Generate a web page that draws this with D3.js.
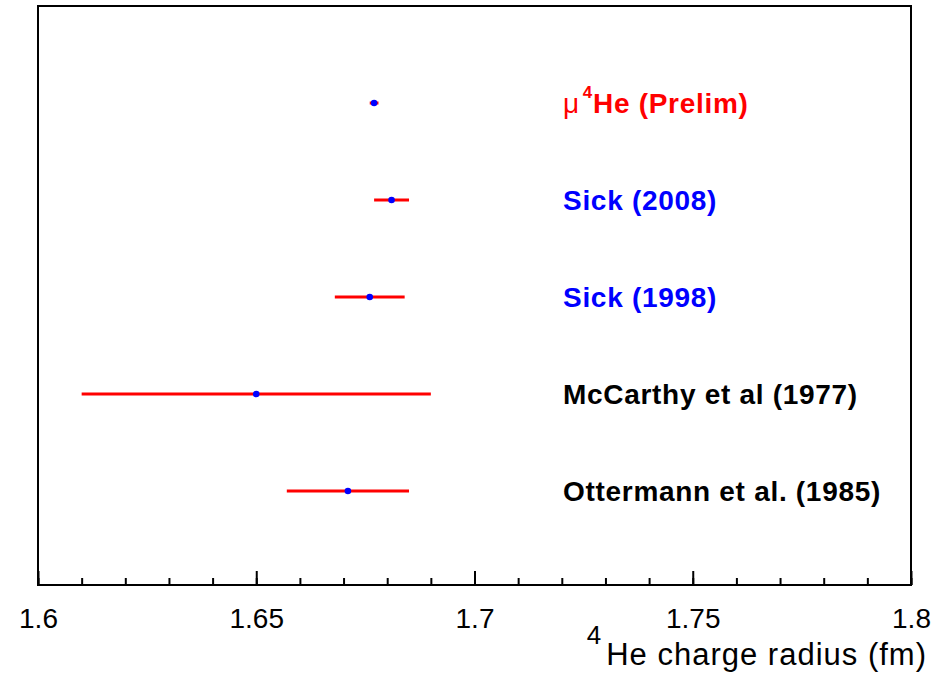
<!DOCTYPE html>
<html>
<head>
<meta charset="utf-8">
<script src="https://cdn.jsdelivr.net/npm/d3@7"></script>
<style>
  body { margin: 0; background: #fff; }
  text { font-family: "Liberation Sans", Arial, Helvetica, sans-serif; }
</style>
</head>
<body>
<div id="chart"></div>
<script>
// Measurements of the 4He charge radius (fm)
const labels = ["He (Prelim)", "Sick (2008)", "Sick (1998)", "McCarthy et al (1977)", "Ottermann et al. (1985)"];
const values = [1.677, 1.681, 1.676, 1.650, 1.671];
const errors = [0.001, 0.004, 0.008, 0.040, 0.014];
const rows = [5, 4, 3, 2, 1];
const labelColors = ["#ff0000", "#0000ff", "#0000ff", "#000000", "#000000"];
const majorTicks = [1.6, 1.65, 1.7, 1.75, 1.8];
const minorTicks = d3.range(0, 21).map(i => +(1.6 + i * 0.01).toFixed(2));

const width = 937, height = 689;
const frame = { left: 38, right: 911, top: 6, bottom: 585 };

const svg = d3.select('#chart')
    .append('svg')
    .attr('width', width)
    .attr('height', height);

const x = d3.scaleLinear()
    .domain([1.6, 1.8])
    .range([frame.left, frame.right]);

const y = d3.scaleLinear()
    .domain([0, 6])
    .range([588, 6]);

// Minor ticks
svg.append('g')
    .attr('transform', `translate(0,${frame.bottom})`)
    .call(d3.axisBottom(x).tickValues(minorTicks).tickSize(-7).tickFormat(''))
    .call(g => g.select('.domain').remove())
    .selectAll('line')
    .attr('stroke', '#000')
    .attr('stroke-width', 2);

// Major ticks and labels
const xAxis = svg.append('g')
    .attr('transform', `translate(0,${frame.bottom})`)
    .call(d3.axisBottom(x)
        .tickValues(majorTicks)
        .tickSize(-14)
        .tickPadding(23)
        .tickFormat(d => d3.format('')(d)));

xAxis.select('.domain').remove();
xAxis.selectAll('line')
    .attr('stroke', '#000')
    .attr('stroke-width', 2);
xAxis.selectAll('text')
    .style('font-size', '28px')
    .attr('fill', '#000');

// Frame
svg.append('rect')
    .attr('x', frame.left)
    .attr('y', frame.top)
    .attr('width', frame.right - frame.left)
    .attr('height', frame.bottom - frame.top)
    .attr('fill', 'none')
    .attr('stroke', '#000')
    .attr('stroke-width', 2);

// Error bars
const points = svg.append('g')
    .selectAll('g')
    .data(values.map((v, i) => ({ v, e: errors[i], r: rows[i] })))
    .enter()
    .append('g');

points.append('line')
    .attr('x1', d => x(d.v - d.e))
    .attr('x2', d => x(d.v + d.e))
    .attr('y1', d => y(d.r))
    .attr('y2', d => y(d.r))
    .attr('stroke', '#ff0000')
    .attr('stroke-width', 3);

points.append('circle')
    .attr('cx', d => x(d.v))
    .attr('cy', d => y(d.r))
    .attr('r', 3.3)
    .attr('fill', '#0000ff');

// Labels
const labelX = 563;
const lbl = svg.append('g')
    .selectAll('text')
    .data(labels.map((t, i) => ({ t, r: rows[i], c: labelColors[i], i })))
    .enter()
    .append('text')
    .attr('x', labelX)
    .attr('y', d => y(d.r) + 10)
    .attr('fill', d => d.c)
    .style('font-size', '28px')
    .style('font-weight', 'bold')
    .style('letter-spacing', '0.7px');

lbl.each(function(d) {
    const t = d3.select(this);
    if (d.i === 0) {
        t.append('tspan')
            .style('font-weight', 'normal')
            .text('μ');
        t.append('tspan')
            .attr('dy', -15)
            .attr('dx', 3)
            .style('font-size', '17px')
            .text('4');
        t.append('tspan')
            .attr('dy', 15)
            .text(d.t);
    } else {
        t.text(d.t);
    }
});

// Axis title
const title = svg.append('text')
    .attr('x', 927)
    .attr('y', 665)
    .attr('text-anchor', 'end')
    .attr('fill', '#000')
    .style('font-size', '31px')
    .style('letter-spacing', '1px');

title.append('tspan')
    .attr('dy', -21)
    .style('font-size', '26px')
    .text('4');
title.append('tspan')
    .attr('dy', 21)
    .attr('dx', 4)
    .text('He charge radius (fm)');
</script>
</body>
</html>
